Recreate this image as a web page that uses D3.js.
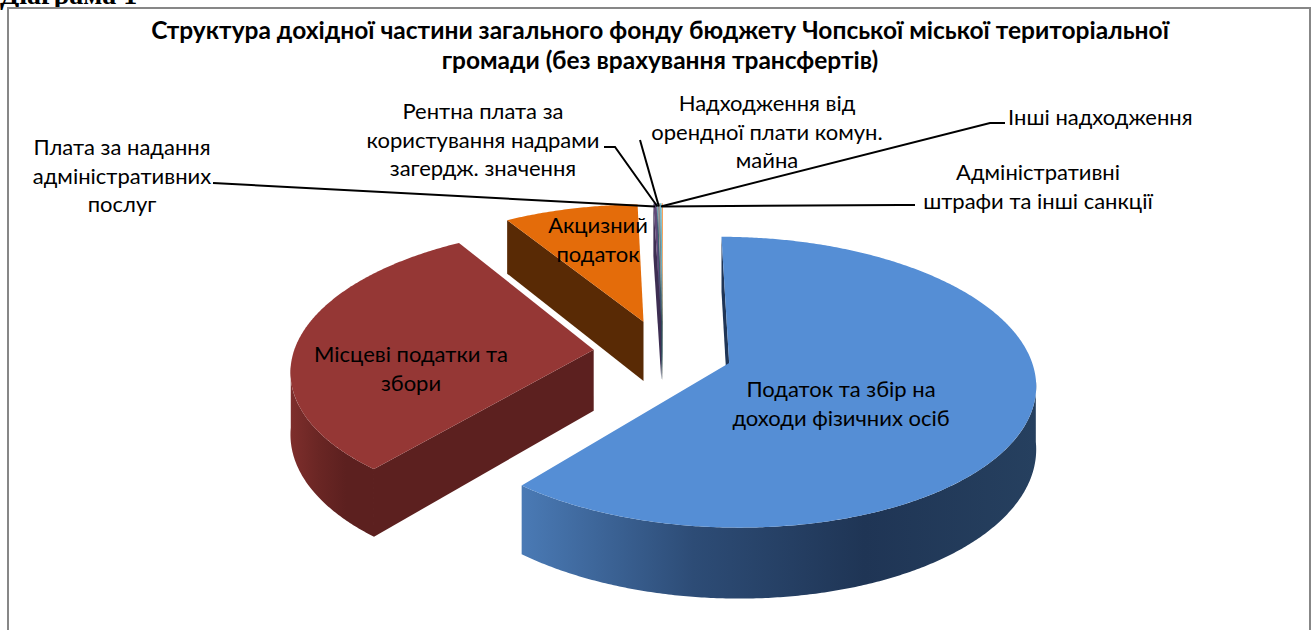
<!DOCTYPE html>
<html>
<head>
<meta charset="utf-8">
<script src="https://cdn.jsdelivr.net/npm/d3@7/dist/d3.min.js"></script>
<style>
  body { margin: 0; background: #fff; }
  svg { display: block; }
</style>
</head>
<body>
<div id="chart"></div>
<script>
// Дані діаграми (частки, %)
const categories = [
  "Податок та збір на доходи фізичних осіб",
  "Місцеві податки та збори",
  "Акцизний податок",
  "Плата за надання адміністративних послуг",
  "Рентна плата за користування надрами загердж. значення",
  "Надходження від орендної плати комун. майна",
  "Інші надходження",
  "Адміністративні штрафи та інші санкції"
];
const values = [61.0, 30.2, 8.3, 0.2, 0.03, 0.12, 0.08, 0.07];

// Рядки підписів для кожної категорії
const labelLines = [
  ["Податок та збір на", "доходи фізичних осіб"],
  ["Місцеві податки та", "збори"],
  ["Акцизний", "податок"],
  ["Плата за надання", "адміністративних", "послуг"],
  ["Рентна плата за", "користування надрами", "загердж. значення"],
  ["Надходження від", "орендної плати комун.", "майна"],
  ["Інші надходження"],
  ["Адміністративні", "штрафи та інші санкції"]
];

const topColors  = ["#558ed5", "#953735", "#e46c0a", "#5f497a", "#31859c", "#8c8c8c", "#4bacc6", "#f79646"];
const cutColors  = ["#1f3556", "#5c201f", "#592a05", "#3d2e52", "#1f5563", "#595959", "#2d6b7c", "#9c5a22"];
const wallStops  = [
  ["#4a7ab5", "#2d4c76", "#1f3555", "#26405f"],
  ["#7e2e2c", "#6a2624", "#5c201f", "#5c201f"],
  ["#8a4408", "#6e3506", "#592a05", "#592a05"],
  ["#5f497a", "#4a3960", "#3d2e52", "#3d2e52"],
  ["#31859c", "#26687a", "#1f5563", "#1f5563"],
  ["#8c8c8c", "#6f6f6f", "#595959", "#595959"],
  ["#4bacc6", "#3a8aa0", "#2d6b7c", "#2d6b7c"],
  ["#f79646", "#c57636", "#9c5a22", "#9c5a22"]
];

const title = [
  "Структура дохідної частини загального фонду бюджету Чопської міської територіальної",
  "громади (без врахування трансфертів)"
];

// Розміри та параметри 3D-проекції
const WIDTH = 1312;
const HEIGHT = 630;
const pie3d = { cx: 663, cy: 352, rx: 300, ry: 140, persp: 0.13, depth: 61, explode: 0.232 };

// Положення підписів (центр, перша базова лінія)
const labelPos = [
  { x: 841, y: 397, anchor: "middle" },
  { x: 411, y: 362, anchor: "middle" },
  { x: 598, y: 233, anchor: "middle" },
  { x: 122, y: 155, anchor: "middle" },
  { x: 483, y: 119, anchor: "middle" },
  { x: 767, y: 111, anchor: "middle" },
  { x: 1008, y: 125, anchor: "start" },
  { x: 1038, y: 180, anchor: "middle" }
];
// Початки виносок
const leaderStart = [
  null, null, null,
  [[213, 183]],
  [[604, 147], [615, 147]],
  [[640, 140]],
  [[1005, 123], [990, 123]],
  [[915, 205], [900, 205]]
];

const svg = d3.select("#chart")
  .append("svg")
  .attr("width", WIDTH)
  .attr("height", HEIGHT);

svg.append("rect")
  .attr("width", WIDTH).attr("height", HEIGHT)
  .attr("fill", "#fff");

// Заголовок документа (обрізаний зверху)
svg.append("text")
  .attr("x", 0).attr("y", 3.5)
  .attr("font-family", "Liberation Serif")
  .attr("font-weight", "bold")
  .attr("font-size", 28)
  .text("Діаграма 1");

// Рамка діаграми
svg.append("rect")
  .attr("x", 8).attr("y", 8)
  .attr("width", 1302).attr("height", 660)
  .attr("fill", "#fff")
  .attr("stroke", "#878787")
  .attr("stroke-width", 2);

const defs = svg.append("defs");

// Назва діаграми
svg.append("g")
  .selectAll("text")
  .data(title)
  .join("text")
  .attr("x", 660)
  .attr("y", (d, i) => 39 + i * 30)
  .attr("text-anchor", "middle")
  .attr("font-family", "Lato")
  .attr("font-weight", "bold")
  .attr("font-size", 24.5)
  .text(d => d);

// Проекція точки (u, v – площина круга, z – глибина 0..1)
function project(u, v, z) {
  const s = 1 / (1 + pie3d.persp * v);
  return [pie3d.cx + pie3d.rx * u * s, pie3d.cy - pie3d.ry * v * s + pie3d.depth * z * s];
}

const arcs = d3.pie().sort(null).value(d => d)(values);

const slices = arcs.map((a, i) => {
  const mid = (a.startAngle + a.endAngle) / 2;
  return {
    i: i,
    a0: a.startAngle,
    a1: a.endAngle,
    mid: mid,
    ou: pie3d.explode * Math.sin(mid),
    ov: pie3d.explode * Math.cos(mid)
  };
});

function pt(s, t, r, z) {
  return project(s.ou + r * Math.sin(t), s.ov + r * Math.cos(t), z);
}

function arcPts(s, t0, t1, z) {
  const n = Math.max(2, Math.ceil(Math.abs(t1 - t0) / (Math.PI / 360)));
  return d3.range(n + 1).map(k => pt(s, t0 + (t1 - t0) * k / n, 1, z));
}

const camV = -1 / pie3d.persp;
function facing(nu, nv, pu, pv) {
  return nu * (0 - pu) + nv * (camV - pv) > 0;
}

const line = d3.line();
const pieG = svg.append("g").attr("id", "pie");

// Малюємо від дальніх секторів до ближніх
const order = slices.slice().sort((a, b) => b.ov - a.ov);

order.forEach(s => {
  const g = pieG.append("g").attr("class", "slice");

  // Зовнішня бічна стінка: видима ділянка
  const step = Math.PI / 720;
  let runs = [];
  let cur = null;
  for (let t = s.a0; t <= s.a1 + 1e-9; t += step) {
    const tt = Math.min(t, s.a1);
    const vis = facing(Math.sin(tt), Math.cos(tt), s.ou + Math.sin(tt), s.ov + Math.cos(tt));
    if (vis) {
      if (!cur) { cur = [tt, tt]; runs.push(cur); }
      cur[1] = tt;
    } else cur = null;
  }
  runs.forEach((r, k) => {
    const t0 = Math.max(s.a0, r[0] - 0.05);
    const t1 = Math.min(s.a1, r[1] + 0.05);
    const top = arcPts(s, t0, t1, 0);
    const bot = arcPts(s, t1, t0, 1);
    const xs = top.concat(bot).map(p => p[0]);
    const gid = `wall-${s.i}-${k}`;
    const grad = defs.append("linearGradient")
      .attr("id", gid)
      .attr("gradientUnits", "userSpaceOnUse")
      .attr("x1", d3.min(xs)).attr("x2", d3.max(xs))
      .attr("y1", 0).attr("y2", 0);
    wallStops[s.i].forEach((c, j, arr) => {
      grad.append("stop").attr("offset", j / (arr.length - 1)).attr("stop-color", c);
    });
    g.append("path")
      .attr("d", line(top.concat(bot)) + "Z")
      .attr("fill", `url(#${gid})`);
  });

  // Радіальні стінки розрізу
  const walls = [
    { t: s.a0, nu: -Math.cos(s.a0), nv: Math.sin(s.a0) },
    { t: s.a1, nu: Math.cos(s.a1), nv: -Math.sin(s.a1) }
  ];
  walls.forEach(w => {
    const pu = s.ou + 0.5 * Math.sin(w.t);
    const pv = s.ov + 0.5 * Math.cos(w.t);
    if (!facing(w.nu, w.nv, pu, pv)) return;
    const quad = [pt(s, w.t, 0, 0), pt(s, w.t, 1, 0), pt(s, w.t, 1, 1), pt(s, w.t, 0, 1)];
    g.append("path")
      .attr("d", line(quad) + "Z")
      .attr("fill", cutColors[s.i]);
  });

  // Верхня грань
  const face = [pt(s, 0, 0, 0)].concat(arcPts(s, s.a0, s.a1, 0));
  g.append("path")
    .attr("d", line(face) + "Z")
    .attr("fill", topColors[s.i]);
});

// Виноски
const leaderG = svg.append("g").attr("id", "leaders");
slices.forEach(s => {
  const start = leaderStart[s.i];
  if (!start) return;
  const end = pt(s, s.mid, 0.97, 0);
  leaderG.append("path")
    .attr("d", line(start.concat([end])))
    .attr("fill", "none")
    .attr("stroke", "#000")
    .attr("stroke-width", 2);
});

// Підписи
const labelG = svg.append("g").attr("id", "labels");
slices.forEach(s => {
  const p = labelPos[s.i];
  const t = labelG.append("text")
    .attr("text-anchor", p.anchor)
    .attr("font-family", "Lato")
    .attr("font-size", 22)
    .attr("fill", "#000");
  labelLines[s.i].forEach((ln, k) => {
    t.append("tspan")
      .attr("x", p.x)
      .attr("y", p.y + k * 28.5)
      .text(ln);
  });
});
</script>
</body>
</html>
